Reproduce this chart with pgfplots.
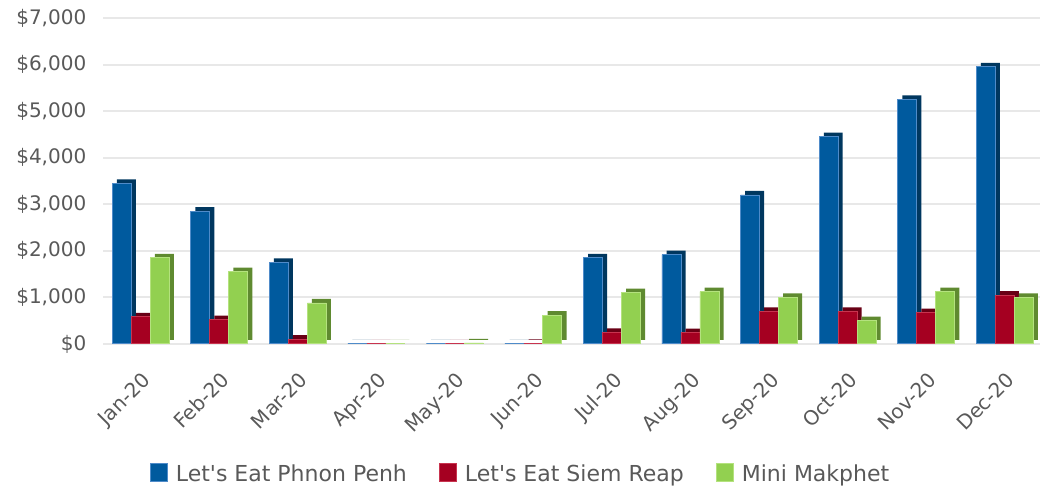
\documentclass[border=0pt]{standalone}
\usepackage{fontspec}
\setmainfont{DejaVu Sans}
\usepackage{pgfplots}
\pgfplotsset{compat=1.18}

\definecolor{txt}{HTML}{595959}
\definecolor{gridc}{HTML}{E8E8E8}
\definecolor{bluef}{HTML}{005A9E}
\definecolor{blues}{HTML}{00375F}
\definecolor{bluee}{HTML}{4F8BC9}
\definecolor{redf}{HTML}{A50021}
\definecolor{reds}{HTML}{690015}
\definecolor{rede}{HTML}{C8344F}
\definecolor{greenf}{HTML}{92D050}
\definecolor{greens}{HTML}{5F8A30}
\definecolor{greene}{HTML}{B4E27E}

\begin{document}
\begin{tikzpicture}
\begin{axis}[
    scale only axis,
    width=703pt, height=244.5pt,
    ybar, bar width=14.25pt,
    xmin=-0.48, xmax=11.45,
    ymin=0, ymax=7000,
    ytick={0,1000,...,7000},
    xtick={0,...,11},
    xticklabels={Jan-20,Feb-20,Mar-20,Apr-20,May-20,Jun-20,Jul-20,Aug-20,Sep-20,Oct-20,Nov-20,Dec-20},
    axis line style={draw=none},
    major tick length=0pt,
    ymajorgrids, grid style={gridc, line width=1.5pt},
    /pgf/number format/assume math mode=true,
    /pgf/number format/1000 sep={,},
    yticklabel={\$\pgfmathprintnumber{\tick}},
    tick label style={font=\fontsize{15}{17}\selectfont, text=txt},
    yticklabel style={anchor=east, xshift=-9pt},
    xticklabel style={rotate=45, anchor=north east, yshift=-11pt, xshift=-10.5pt},
    legend style={at={(0.446,-0.40)}, anchor=center, draw=none, fill=none,
        font=\fontsize{16.5}{18}\selectfont, text=txt,
        legend columns=-1,
        /tikz/every even column/.append style={column sep=22pt},
        /tikz/every odd column/.append style={column sep=4pt}},
    legend image code/.code={\fill[#1] (0pt,-5.5pt) rectangle (13pt,8pt);},
]
% depth faces
\addplot[forget plot, fill=blues, draw=none, bar shift=-14.25pt, xshift=3.5pt, yshift=3pt] coordinates {
    (0,3450) (1,2850) (2,1750) (3,0) (4,0) (5,0) (6,1850) (7,1920) (8,3200) (9,4450) (10,5250) (11,5950)};
\addplot[fill=bluef, draw=bluee, line width=0.6pt, bar shift=-14.25pt] coordinates {
    (0,3450) (1,2850) (2,1750) (3,0) (4,0) (5,0) (6,1850) (7,1920) (8,3200) (9,4450) (10,5250) (11,5950)};
\addlegendentry{Let\textquotesingle s Eat Phnon Penh}

\addplot[forget plot, fill=reds, draw=none, bar shift=0pt, xshift=3.5pt, yshift=3pt] coordinates {
    (0,580) (1,520) (2,100) (3,0) (4,0) (5,10) (6,250) (7,240) (8,700) (9,700) (10,670) (11,1050)};
\addplot[fill=redf, draw=rede, line width=0.6pt, bar shift=0pt] coordinates {
    (0,580) (1,520) (2,100) (3,0) (4,0) (5,10) (6,250) (7,240) (8,700) (9,700) (10,670) (11,1050)};
\addlegendentry{Let\textquotesingle s Eat Siem Reap}

\addplot[forget plot, fill=greens, draw=none, bar shift=14.25pt, xshift=3.5pt, yshift=3pt] coordinates {
    (0,1850) (1,1550) (2,880) (3,0) (4,20) (5,620) (6,1100) (7,1120) (8,1000) (9,500) (10,1120) (11,1000)};
\addplot[fill=greenf, draw=greene, line width=0.6pt, bar shift=14.25pt] coordinates {
    (0,1850) (1,1550) (2,880) (3,0) (4,20) (5,620) (6,1100) (7,1120) (8,1000) (9,500) (10,1120) (11,1000)};
\addlegendentry{Mini Makphet}
\end{axis}
\pgfresetboundingbox
\path[use as bounding box] (-77.25pt,-108pt) rectangle (703pt,258pt);
\end{tikzpicture}
\end{document}
